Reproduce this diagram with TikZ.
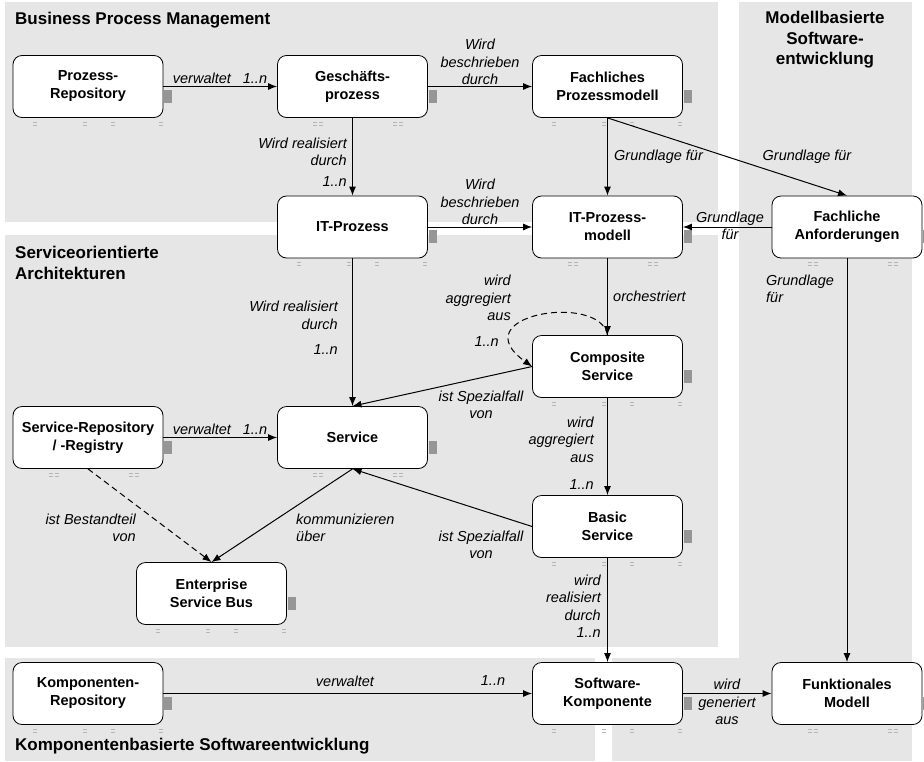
\documentclass[tikz,border=0pt]{standalone}
\usepackage{fontspec}
\setmainfont{Liberation Sans}
\usetikzlibrary{arrows.meta}
\definecolor{panelgray}{RGB}{230,230,230}
\definecolor{stubgray}{RGB}{150,150,150}
\tikzset{
  box/.style={draw,line width=0.8pt,rounded corners=9pt,fill=white,minimum width=150pt,minimum height=62pt,inner sep=2pt,align=center,font=\fontsize{14.5}{18}\selectfont\bfseries},
  lbl/.style={inner sep=0pt,align=center,font=\fontsize{14.5}{17.5}\selectfont\itshape},
  paneltitle/.style={inner sep=0pt,align=left,font=\fontsize{17}{20.5}\selectfont\bfseries},
  conn/.style={line width=1pt,-{Latex[length=9pt,width=7pt]}},
  dashconn/.style={conn,dash pattern=on 6pt off 4pt}
}
% grey connection marks of a box: #1 node, #2 offsets of the ticks below it
\newcommand{\stubs}[2]{%
  \fill[stubgray] ([xshift=1pt,yshift=-3pt]#1.east) rectangle ++(8pt,-13pt);
  \foreach \dx in {#2}
    \draw[stubgray!70,line width=0.6pt] ([xshift=\dx pt,yshift=-4pt]#1.south west) -- ++(4pt,0)
      ([xshift=\dx pt,yshift=-7pt]#1.south west) -- ++(4pt,0);
}
\begin{document}
\begin{tikzpicture}[x=1pt,y=-1pt]
\useasboundingbox (0,0) rectangle (924,761);
% Panels
\fill[panelgray] (5,2) rectangle (718,222);
\fill[panelgray] (5,235) rectangle (718,647);
\fill[panelgray] (5,658) rectangle (595,761);
\fill[panelgray] (739,2) rectangle (912,761);
\fill[panelgray] (612,658) rectangle (912,761);
\node[paneltitle,anchor=west] (tbpm) at (15,20) {Business Process Management};
\node[paneltitle,anchor=west] (tsoa) at (15,263) {Serviceorientierte\\Architekturen};
\node[paneltitle,align=center] (tmse) at (825,40) {Modellbasierte\\Software-\\entwicklung};
\node[paneltitle,anchor=west] (tkse) at (15,746) {Komponentenbasierte Softwareentwicklung};
% Boxes
\node[box] (prep) at (88,86.5) {Prozess-\\Repository};
\node[box] (gp) at (352.5,86.5) {Geschäfts-\\prozess};
\node[box] (fpm) at (607.5,86.5) {Fachliches\\Prozessmodell};
\node[box] (itp) at (352.5,227) {IT-Prozess};
\node[box] (itpm) at (607.5,227) {IT-Prozess-\\modell};
\node[box] (fa) at (847,227) {Fachliche\\Anforderungen};
\node[box] (cs) at (607.5,366.5) {Composite\\Service};
\node[box] (srr) at (88,437.5) {Service-Repository\\/ -Registry};
\node[box] (svc) at (352.5,437.5) {Service};
\node[box] (bs) at (607.5,526.5) {Basic\\Service};
\node[box] (esb) at (211.5,593.5) {Enterprise\\Service Bus};
\node[box] (kr) at (88,693.5) {Komponenten-\\Repository};
\node[box] (sk) at (607.5,693.5) {Software-\\Komponente};
\node[box] (fm) at (847,693.5) {Funktionales\\Modell};
\foreach \n in {prep,fpm,itp,cs,bs,esb,kr,sk}
  \stubs{\n}{20,70,98,146};
\foreach \n in {gp,itpm,fa,srr,svc,fm}
  \stubs{\n}{36,42,116,122};
% Business Process Management
\draw[conn] (prep) -- (gp);
\node[lbl] (lverw1) at (220,78) {verwaltet\hspace{12pt}1..n};
\draw[conn] (gp) -- (fpm);
\node[lbl] (lbeschr1) at (480,62) {Wird\\beschrieben\\durch};
\draw[conn] (gp) -- (itp);
\node[lbl,anchor=east,align=right] (lreal1) at (347,162) {Wird realisiert\\durch\\[3pt]1..n};
\draw[conn] (itp) -- (itpm);
\node[lbl] (lbeschr2) at (480,202) {Wird\\beschrieben\\durch};
\draw[conn] (fpm) -- (itpm);
\node[lbl,anchor=west] (lgrund1) at (614,157) {Grundlage für};
\draw[conn] (fpm.south) -- (fa.north);
\node[lbl] (lgrund2) at (807,157) {Grundlage für};
\draw[conn] (fa) -- (itpm);
\node[lbl] (lgrund3) at (730,226) {Grundlage\\für};
\draw[conn] (fa) -- (fm);
\node[lbl,anchor=west,align=left] (lgrund4) at (766,289) {Grundlage\\für};
% Serviceorientierte Architekturen
\draw[conn] (itp) -- (svc);
\node[lbl,anchor=east,align=right] (lreal2) at (338,328) {Wird realisiert\\durch\\[8pt]1..n};
\draw[conn] (itpm) -- (cs);
\node[lbl,anchor=west] (lorch) at (613,296) {orchestriert};
\draw[dashconn] (cs.north) .. controls (600,292) and (460,315) .. (cs.west);
\node[lbl,anchor=east,align=right] (laggr1) at (511,298) {wird\\aggregiert\\aus};
\node[lbl,anchor=east] (laggrn) at (499,342) {1..n};
\draw[conn] (cs.west) -- (svc.north);
\node[lbl] (lspez1) at (481,405) {ist Spezialfall\\von};
\draw[conn] (cs) -- (bs);
\node[lbl,anchor=east,align=right] (laggr2) at (594,453) {wird\\aggregiert\\aus\\[10pt]1..n};
\draw[conn] (bs.west) -- (svc.south);
\node[lbl] (lspez2) at (481,545) {ist Spezialfall\\von};
\draw[conn] (srr) -- (svc);
\node[lbl] (lverw2) at (220,429) {verwaltet\hspace{12pt}1..n};
\draw[dashconn] (srr.south) -- (esb.north);
\node[lbl,anchor=east,align=right] (lbest) at (136,528) {ist Bestandteil\\von};
\draw[conn] (svc.south) -- (esb.north);
\node[lbl,anchor=west,align=left] (lkomm) at (296,528) {kommunizieren\\über};
% Komponenten
\draw[conn] (bs) -- (sk);
\node[lbl,anchor=east,align=right] (lreal3) at (601,606) {wird\\realisiert\\durch\\1..n};
\draw[conn] (kr) -- (sk);
\node[lbl] (lverw3) at (345,681) {verwaltet};
\node[lbl] (lverw3n) at (493,681) {1..n};
\draw[conn] (sk) -- (fm);
\node[lbl] (lgen) at (727,702) {wird\\generiert\\aus};
\end{tikzpicture}
\end{document}
